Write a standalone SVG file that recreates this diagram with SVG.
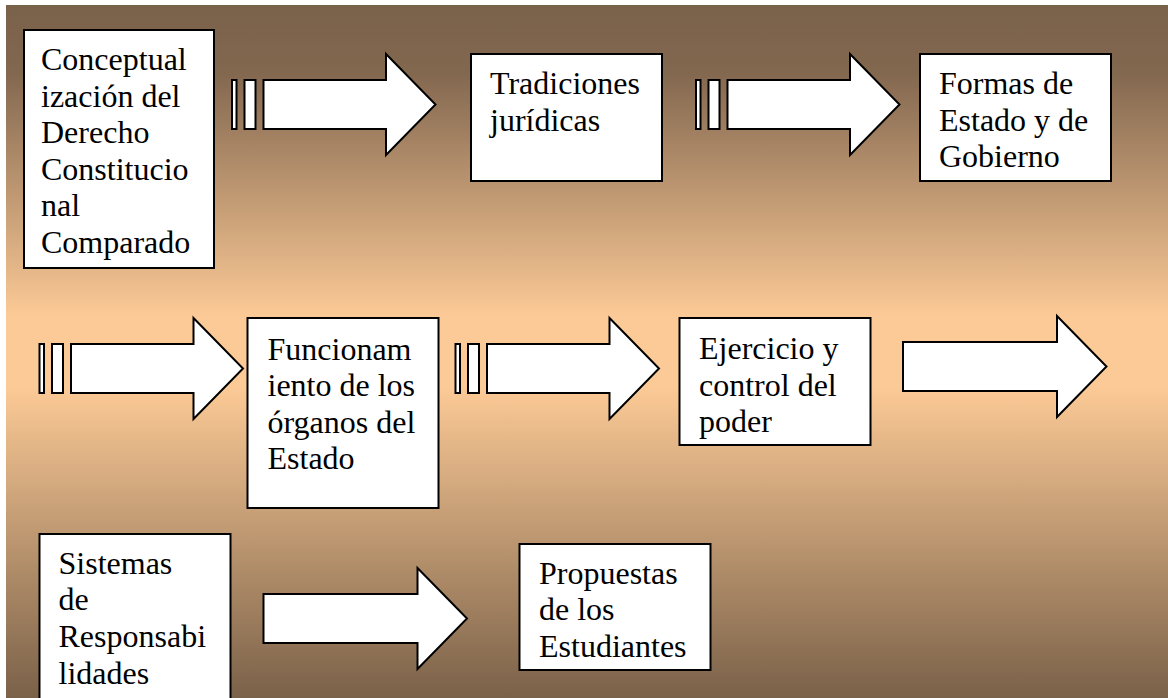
<svg xmlns="http://www.w3.org/2000/svg" xmlns:xlink="http://www.w3.org/1999/xlink" width="1168" height="698" viewBox="0 0 1168 698">
  <defs>
    <linearGradient id="bg" gradientUnits="userSpaceOnUse" x1="0" y1="5" x2="0" y2="698">
      <stop offset="0" stop-color="#7a6149"/>
      <stop offset="0.1" stop-color="#836850"/>
      <stop offset="0.45" stop-color="#fcca96"/>
      <stop offset="0.55" stop-color="#fcca96"/>
      <stop offset="1" stop-color="#7a6149"/>
    </linearGradient>
    <g id="striped">
      <rect x="1" y="27" width="4.5" height="49"/>
      <rect x="13.5" y="27" width="11" height="49"/>
      <path d="M 32.5,27 H 155 V 1 L 204.5,51.5 L 155,102 V 76 H 32.5 Z"/>
    </g>
    <path id="plain" d="M 1,27 H 155 V 1 L 204.5,51.5 L 155,102 V 76 H 1 Z"/>
    <style>
      .box { fill: #ffffff; stroke: #000000; stroke-width: 2; }
      .arrow { fill: #ffffff; stroke: #000000; stroke-width: 2; stroke-linejoin: miter; }
      .lbl { font-family: "Liberation Serif", "Times New Roman", serif; font-size: 32px; fill: #000000; }
    </style>
  </defs>

  <rect x="0" y="0" width="1168" height="698" fill="#ffffff"/>
  <rect x="6" y="5" width="1162" height="693" fill="url(#bg)"/>

  <g id="connectors" class="arrow">
    <use xlink:href="#striped" href="#striped" transform="translate(231,53)"/>
    <use xlink:href="#striped" href="#striped" transform="translate(695,53)"/>
    <use xlink:href="#striped" href="#striped" transform="translate(38.5,317)"/>
    <use xlink:href="#striped" href="#striped" transform="translate(454.5,317)"/>
    <use xlink:href="#plain" href="#plain" transform="translate(902,315)"/>
    <use xlink:href="#plain" href="#plain" transform="translate(262.5,567)"/>
  </g>

  <g id="node-conceptualizacion">
    <rect class="box" x="24" y="30" width="190" height="238"/>
    <text class="lbl">
      <tspan x="41" y="70">Conceptual</tspan>
      <tspan x="41" y="106.6">ización del</tspan>
      <tspan x="41" y="143.2">Derecho</tspan>
      <tspan x="41" y="179.8">Constitucio</tspan>
      <tspan x="41" y="216.4">nal</tspan>
      <tspan x="41" y="253">Comparado</tspan>
    </text>
  </g>

  <g id="node-tradiciones">
    <rect class="box" x="471" y="54" width="191" height="127"/>
    <text class="lbl">
      <tspan x="490" y="94">Tradiciones</tspan>
      <tspan x="490" y="130.6">jurídicas</tspan>
    </text>
  </g>

  <g id="node-formas">
    <rect class="box" x="920" y="54" width="191" height="127"/>
    <text class="lbl">
      <tspan x="939" y="94">Formas de</tspan>
      <tspan x="939" y="130.6">Estado y de</tspan>
      <tspan x="939" y="167.2">Gobierno</tspan>
    </text>
  </g>

  <g id="node-funcionamiento">
    <rect class="box" x="247.5" y="318" width="191" height="190"/>
    <text class="lbl">
      <tspan x="267.5" y="359.5">Funcionam</tspan>
      <tspan x="267.5" y="396">iento de los</tspan>
      <tspan x="267.5" y="432.5">órganos del</tspan>
      <tspan x="267.5" y="469">Estado</tspan>
    </text>
  </g>

  <g id="node-ejercicio">
    <rect class="box" x="679.5" y="318" width="191" height="127"/>
    <text class="lbl">
      <tspan x="699" y="359">Ejercicio y</tspan>
      <tspan x="699" y="395.6">control del</tspan>
      <tspan x="699" y="432.2">poder</tspan>
    </text>
  </g>

  <g id="node-sistemas">
    <rect class="box" x="39.5" y="534" width="191" height="180"/>
    <text class="lbl">
      <tspan x="58.5" y="573.5">Sistemas</tspan>
      <tspan x="58.5" y="610">de</tspan>
      <tspan x="58.5" y="647">Responsabi</tspan>
      <tspan x="58.5" y="684">lidades</tspan>
    </text>
  </g>

  <g id="node-propuestas">
    <rect class="box" x="519.5" y="544" width="191" height="126"/>
    <text class="lbl">
      <tspan x="539" y="583.5">Propuestas</tspan>
      <tspan x="539" y="620">de los</tspan>
      <tspan x="539" y="656.5">Estudiantes</tspan>
    </text>
  </g>
</svg>
